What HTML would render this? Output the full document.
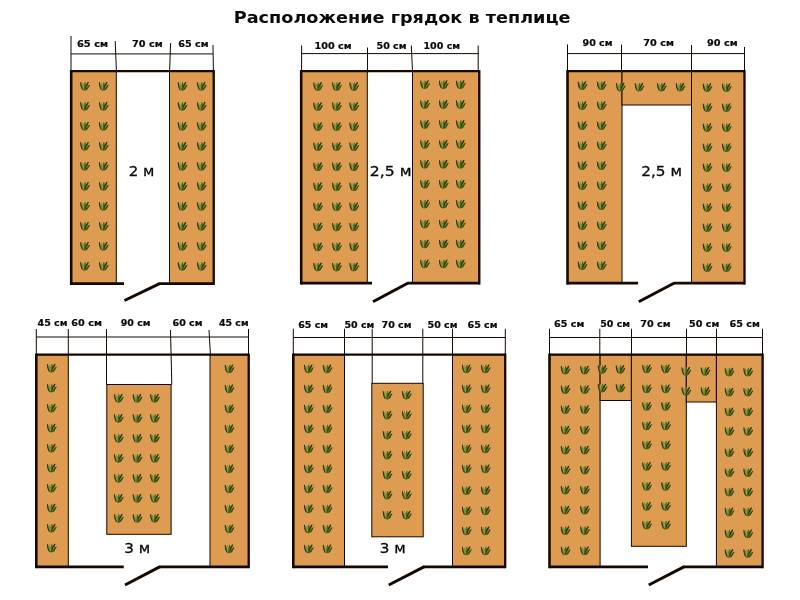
<!DOCTYPE html>
<html lang="ru">
<head>
<meta charset="utf-8">
<title>Расположение грядок в теплице</title>
<style>
html,body{margin:0;padding:0;background:#fff;}
svg{display:block;will-change:transform;}
text{font-family:"DejaVu Sans","Liberation Sans",sans-serif;fill:#0a0a0a;}
.t{font-weight:bold;font-size:16px;}
.d{font-weight:bold;font-size:9px;stroke:#0a0a0a;stroke-width:0.2px;}
.b{font-size:14px;stroke:#0a0a0a;stroke-width:0.3px;}
</style>
</head>
<body>
<svg width="800" height="600" viewBox="0 0 800 600">
<defs>
<symbol id="p" overflow="visible">
<path d="M-4.8 -4 C-4.9 -1 -4.4 1.2 -3.6 2.6 C-2.8 4 -1.6 4.7 -0.6 4.6 C1 4.5 2.6 3.6 3.6 2.2 L5 -1.4 L3.3 -0.4 L3.5 -4.3 L1.4 -1.6 L0.2 -4.5 L-1.4 -1.6 L-2.4 -4.3 L-3.5 -1.4 Z" fill="#6f8232"/>
<path d="M-4.6 -3.8 C-4.6 -1 -4 1.4 -3 3" stroke="#30380a" stroke-width="1.2" fill="none" stroke-linecap="round"/>
<path d="M-0.6 3.4 C0.4 0.8 1.8 -2 3.3 -3.9" stroke="#2c3606" stroke-width="1.5" fill="none" stroke-linecap="round"/>
<path d="M1 3.8 C2.4 2.4 3.8 0.6 4.7 -1.1" stroke="#363f0a" stroke-width="1.1" fill="none" stroke-linecap="round"/>
<path d="M-2.3 -3.6 C-2.2 -1 -1.8 1.5 -1.2 3.4" stroke="#a9b060" stroke-width="0.7" fill="none" stroke-linecap="round"/>
<path d="M0.2 -3.8 C0 -1.5 -0.2 1 -0.4 3" stroke="#4e6016" stroke-width="0.9" fill="none" stroke-linecap="round"/>
<path d="M-3 3.6 C-1.6 4.8 1.2 4.6 3 3" stroke="#50581a" stroke-width="0.8" fill="none" stroke-linecap="round"/>
</symbol>
</defs>
<rect x="0" y="0" width="800" height="600" fill="#ffffff"/>
<rect x="71.2" y="71.2" width="45.10" height="212.40" fill="#DE9C53" stroke="#140800" stroke-width="1"/>
<rect x="169.5" y="71.2" width="44.20" height="212.40" fill="#DE9C53" stroke="#140800" stroke-width="1"/>
<use href="#p" transform="translate(85 86.2) scale(0.93)"/>
<use href="#p" transform="translate(103.75 86.2) scale(0.93)"/>
<use href="#p" transform="translate(85 106.2) scale(0.93)"/>
<use href="#p" transform="translate(103.75 106.2) scale(0.93)"/>
<use href="#p" transform="translate(85 126.2) scale(0.93)"/>
<use href="#p" transform="translate(103.75 126.2) scale(0.93)"/>
<use href="#p" transform="translate(85 146.2) scale(0.93)"/>
<use href="#p" transform="translate(103.75 146.2) scale(0.93)"/>
<use href="#p" transform="translate(85 166.2) scale(0.93)"/>
<use href="#p" transform="translate(103.75 166.2) scale(0.93)"/>
<use href="#p" transform="translate(85 186.2) scale(0.93)"/>
<use href="#p" transform="translate(103.75 186.2) scale(0.93)"/>
<use href="#p" transform="translate(85 206.2) scale(0.93)"/>
<use href="#p" transform="translate(103.75 206.2) scale(0.93)"/>
<use href="#p" transform="translate(85 226.2) scale(0.93)"/>
<use href="#p" transform="translate(103.75 226.2) scale(0.93)"/>
<use href="#p" transform="translate(85 246.2) scale(0.93)"/>
<use href="#p" transform="translate(103.75 246.2) scale(0.93)"/>
<use href="#p" transform="translate(85 266.2) scale(0.93)"/>
<use href="#p" transform="translate(103.75 266.2) scale(0.93)"/>
<use href="#p" transform="translate(182.5 86.2) scale(0.93)"/>
<use href="#p" transform="translate(201.75 86.2) scale(0.93)"/>
<use href="#p" transform="translate(182.5 106.2) scale(0.93)"/>
<use href="#p" transform="translate(201.75 106.2) scale(0.93)"/>
<use href="#p" transform="translate(182.5 126.2) scale(0.93)"/>
<use href="#p" transform="translate(201.75 126.2) scale(0.93)"/>
<use href="#p" transform="translate(182.5 146.2) scale(0.93)"/>
<use href="#p" transform="translate(201.75 146.2) scale(0.93)"/>
<use href="#p" transform="translate(182.5 166.2) scale(0.93)"/>
<use href="#p" transform="translate(201.75 166.2) scale(0.93)"/>
<use href="#p" transform="translate(182.5 186.2) scale(0.93)"/>
<use href="#p" transform="translate(201.75 186.2) scale(0.93)"/>
<use href="#p" transform="translate(182.5 206.2) scale(0.93)"/>
<use href="#p" transform="translate(201.75 206.2) scale(0.93)"/>
<use href="#p" transform="translate(182.5 226.2) scale(0.93)"/>
<use href="#p" transform="translate(201.75 226.2) scale(0.93)"/>
<use href="#p" transform="translate(182.5 246.2) scale(0.93)"/>
<use href="#p" transform="translate(201.75 246.2) scale(0.93)"/>
<use href="#p" transform="translate(182.5 266.2) scale(0.93)"/>
<use href="#p" transform="translate(201.75 266.2) scale(0.93)"/>
<line x1="71.2" y1="70.10000000000001" x2="71.2" y2="285.0" stroke="#140800" stroke-width="2.6" stroke-linecap="butt"/>
<line x1="213.7" y1="70.10000000000001" x2="213.7" y2="285.0" stroke="#140800" stroke-width="2.3" stroke-linecap="butt"/>
<line x1="71.2" y1="71.2" x2="213.7" y2="71.2" stroke="#140800" stroke-width="2.3" stroke-linecap="butt"/>
<line x1="71.2" y1="283.6" x2="124" y2="283.6" stroke="#140800" stroke-width="2.8" stroke-linecap="butt"/>
<line x1="159.5" y1="283.6" x2="213.7" y2="283.6" stroke="#140800" stroke-width="2.8" stroke-linecap="butt"/>
<line x1="160.1" y1="283.40000000000003" x2="124.5" y2="300.5" stroke="#140800" stroke-width="3.0" stroke-linecap="butt"/>
<line x1="71" y1="53.9" x2="213" y2="53.9" stroke="#140800" stroke-width="1" stroke-linecap="butt"/>
<line x1="71" y1="36" x2="71" y2="71.2" stroke="#140800" stroke-width="1" stroke-linecap="butt"/>
<line x1="115.2" y1="41" x2="116.4" y2="71.2" stroke="#140800" stroke-width="1" stroke-linecap="butt"/>
<line x1="170.6" y1="43" x2="169.6" y2="71.2" stroke="#140800" stroke-width="1" stroke-linecap="butt"/>
<line x1="213" y1="45" x2="213.4" y2="71.2" stroke="#140800" stroke-width="1" stroke-linecap="butt"/>
<text class="d" x="77.0" y="47" textLength="31.10" lengthAdjust="spacingAndGlyphs">65 см</text>
<text class="d" x="132.0" y="47" textLength="30.60" lengthAdjust="spacingAndGlyphs">70 см</text>
<text class="d" x="178.25" y="47" textLength="30.35" lengthAdjust="spacingAndGlyphs">65 см</text>
<text class="b" x="128.8" y="175.75" textLength="25.65" lengthAdjust="spacingAndGlyphs">2 м</text>
<rect x="301.2" y="71.2" width="66.10" height="212.00" fill="#DE9C53" stroke="#140800" stroke-width="1"/>
<rect x="412.5" y="71.2" width="66.80" height="212.00" fill="#DE9C53" stroke="#140800" stroke-width="1"/>
<use href="#p" transform="translate(318.1 86.4) scale(0.93)"/>
<use href="#p" transform="translate(336.9 86.4) scale(0.93)"/>
<use href="#p" transform="translate(354.2 86.4) scale(0.93)"/>
<use href="#p" transform="translate(318.1 106.45) scale(0.93)"/>
<use href="#p" transform="translate(336.9 106.45) scale(0.93)"/>
<use href="#p" transform="translate(354.2 106.45) scale(0.93)"/>
<use href="#p" transform="translate(318.1 126.5) scale(0.93)"/>
<use href="#p" transform="translate(336.9 126.5) scale(0.93)"/>
<use href="#p" transform="translate(354.2 126.5) scale(0.93)"/>
<use href="#p" transform="translate(318.1 146.55) scale(0.93)"/>
<use href="#p" transform="translate(336.9 146.55) scale(0.93)"/>
<use href="#p" transform="translate(354.2 146.55) scale(0.93)"/>
<use href="#p" transform="translate(318.1 166.6) scale(0.93)"/>
<use href="#p" transform="translate(336.9 166.6) scale(0.93)"/>
<use href="#p" transform="translate(354.2 166.6) scale(0.93)"/>
<use href="#p" transform="translate(318.1 186.65) scale(0.93)"/>
<use href="#p" transform="translate(336.9 186.65) scale(0.93)"/>
<use href="#p" transform="translate(354.2 186.65) scale(0.93)"/>
<use href="#p" transform="translate(318.1 206.7) scale(0.93)"/>
<use href="#p" transform="translate(336.9 206.7) scale(0.93)"/>
<use href="#p" transform="translate(354.2 206.7) scale(0.93)"/>
<use href="#p" transform="translate(318.1 226.75) scale(0.93)"/>
<use href="#p" transform="translate(336.9 226.75) scale(0.93)"/>
<use href="#p" transform="translate(354.2 226.75) scale(0.93)"/>
<use href="#p" transform="translate(318.1 246.8) scale(0.93)"/>
<use href="#p" transform="translate(336.9 246.8) scale(0.93)"/>
<use href="#p" transform="translate(354.2 246.8) scale(0.93)"/>
<use href="#p" transform="translate(318.1 266.85) scale(0.93)"/>
<use href="#p" transform="translate(336.9 266.85) scale(0.93)"/>
<use href="#p" transform="translate(354.2 266.85) scale(0.93)"/>
<use href="#p" transform="translate(425 84.5) scale(0.93)"/>
<use href="#p" transform="translate(443.75 84.5) scale(0.93)"/>
<use href="#p" transform="translate(460.75 84.5) scale(0.93)"/>
<use href="#p" transform="translate(425 104.42) scale(0.93)"/>
<use href="#p" transform="translate(443.75 104.42) scale(0.93)"/>
<use href="#p" transform="translate(460.75 104.42) scale(0.93)"/>
<use href="#p" transform="translate(425 124.34) scale(0.93)"/>
<use href="#p" transform="translate(443.75 124.34) scale(0.93)"/>
<use href="#p" transform="translate(460.75 124.34) scale(0.93)"/>
<use href="#p" transform="translate(425 144.26) scale(0.93)"/>
<use href="#p" transform="translate(443.75 144.26) scale(0.93)"/>
<use href="#p" transform="translate(460.75 144.26) scale(0.93)"/>
<use href="#p" transform="translate(425 164.18) scale(0.93)"/>
<use href="#p" transform="translate(443.75 164.18) scale(0.93)"/>
<use href="#p" transform="translate(460.75 164.18) scale(0.93)"/>
<use href="#p" transform="translate(425 184.1) scale(0.93)"/>
<use href="#p" transform="translate(443.75 184.1) scale(0.93)"/>
<use href="#p" transform="translate(460.75 184.1) scale(0.93)"/>
<use href="#p" transform="translate(425 204.02) scale(0.93)"/>
<use href="#p" transform="translate(443.75 204.02) scale(0.93)"/>
<use href="#p" transform="translate(460.75 204.02) scale(0.93)"/>
<use href="#p" transform="translate(425 223.94) scale(0.93)"/>
<use href="#p" transform="translate(443.75 223.94) scale(0.93)"/>
<use href="#p" transform="translate(460.75 223.94) scale(0.93)"/>
<use href="#p" transform="translate(425 243.86) scale(0.93)"/>
<use href="#p" transform="translate(443.75 243.86) scale(0.93)"/>
<use href="#p" transform="translate(460.75 243.86) scale(0.93)"/>
<use href="#p" transform="translate(425 263.78) scale(0.93)"/>
<use href="#p" transform="translate(443.75 263.78) scale(0.93)"/>
<use href="#p" transform="translate(460.75 263.78) scale(0.93)"/>
<line x1="301.2" y1="70.10000000000001" x2="301.2" y2="284.59999999999997" stroke="#140800" stroke-width="2.6" stroke-linecap="butt"/>
<line x1="479.3" y1="70.10000000000001" x2="479.3" y2="284.59999999999997" stroke="#140800" stroke-width="2.3" stroke-linecap="butt"/>
<line x1="301.2" y1="71.2" x2="479.3" y2="71.2" stroke="#140800" stroke-width="2.3" stroke-linecap="butt"/>
<line x1="301.2" y1="283.2" x2="372" y2="283.2" stroke="#140800" stroke-width="2.8" stroke-linecap="butt"/>
<line x1="407.5" y1="283.2" x2="479.3" y2="283.2" stroke="#140800" stroke-width="2.8" stroke-linecap="butt"/>
<line x1="408.1" y1="283.0" x2="373" y2="301.75" stroke="#140800" stroke-width="3.0" stroke-linecap="butt"/>
<line x1="301.6" y1="53.6" x2="478.2" y2="53.6" stroke="#140800" stroke-width="1" stroke-linecap="butt"/>
<line x1="301.6" y1="45.5" x2="301.6" y2="71.2" stroke="#140800" stroke-width="1" stroke-linecap="butt"/>
<line x1="367.5" y1="47.5" x2="367.5" y2="71.2" stroke="#140800" stroke-width="1" stroke-linecap="butt"/>
<line x1="411.3" y1="45.5" x2="412.5" y2="71.2" stroke="#140800" stroke-width="1" stroke-linecap="butt"/>
<line x1="478.2" y1="45.5" x2="478.2" y2="71.2" stroke="#140800" stroke-width="1" stroke-linecap="butt"/>
<text class="d" x="314.5" y="48.75" textLength="37.10" lengthAdjust="spacingAndGlyphs">100 см</text>
<text class="d" x="376.5" y="48.75" textLength="30.10" lengthAdjust="spacingAndGlyphs">50 см</text>
<text class="d" x="423.5" y="48.75" textLength="36.60" lengthAdjust="spacingAndGlyphs">100 см</text>
<text class="b" x="369.8" y="175.5" textLength="41.65" lengthAdjust="spacingAndGlyphs">2,5 м</text>
<rect x="567.5" y="71.2" width="54.50" height="212.00" fill="#DE9C53" stroke="#140800" stroke-width="1"/>
<rect x="622" y="71.2" width="69.50" height="33.80" fill="#DE9C53" stroke="#140800" stroke-width="1"/>
<rect x="691.5" y="71.2" width="53.00" height="212.00" fill="#DE9C53" stroke="#140800" stroke-width="1"/>
<use href="#p" transform="translate(582.5 85.5) scale(0.93)"/>
<use href="#p" transform="translate(601.75 85.5) scale(0.93)"/>
<use href="#p" transform="translate(582.5 105.5) scale(0.93)"/>
<use href="#p" transform="translate(601.75 105.5) scale(0.93)"/>
<use href="#p" transform="translate(582.5 125.5) scale(0.93)"/>
<use href="#p" transform="translate(601.75 125.5) scale(0.93)"/>
<use href="#p" transform="translate(582.5 145.5) scale(0.93)"/>
<use href="#p" transform="translate(601.75 145.5) scale(0.93)"/>
<use href="#p" transform="translate(582.5 165.5) scale(0.93)"/>
<use href="#p" transform="translate(601.75 165.5) scale(0.93)"/>
<use href="#p" transform="translate(582.5 185.5) scale(0.93)"/>
<use href="#p" transform="translate(601.75 185.5) scale(0.93)"/>
<use href="#p" transform="translate(582.5 205.5) scale(0.93)"/>
<use href="#p" transform="translate(601.75 205.5) scale(0.93)"/>
<use href="#p" transform="translate(582.5 225.5) scale(0.93)"/>
<use href="#p" transform="translate(601.75 225.5) scale(0.93)"/>
<use href="#p" transform="translate(582.5 245.5) scale(0.93)"/>
<use href="#p" transform="translate(601.75 245.5) scale(0.93)"/>
<use href="#p" transform="translate(582.5 265.5) scale(0.93)"/>
<use href="#p" transform="translate(601.75 265.5) scale(0.93)"/>
<use href="#p" transform="translate(620.75 87) scale(0.93)"/>
<use href="#p" transform="translate(639.5 87) scale(0.93)"/>
<use href="#p" transform="translate(661.75 87) scale(0.93)"/>
<use href="#p" transform="translate(680.5 87) scale(0.93)"/>
<use href="#p" transform="translate(707.5 87.5) scale(0.93)"/>
<use href="#p" transform="translate(726.75 87.5) scale(0.93)"/>
<use href="#p" transform="translate(707.5 107.5) scale(0.93)"/>
<use href="#p" transform="translate(726.75 107.5) scale(0.93)"/>
<use href="#p" transform="translate(707.5 127.5) scale(0.93)"/>
<use href="#p" transform="translate(726.75 127.5) scale(0.93)"/>
<use href="#p" transform="translate(707.5 147.5) scale(0.93)"/>
<use href="#p" transform="translate(726.75 147.5) scale(0.93)"/>
<use href="#p" transform="translate(707.5 167.5) scale(0.93)"/>
<use href="#p" transform="translate(726.75 167.5) scale(0.93)"/>
<use href="#p" transform="translate(707.5 187.5) scale(0.93)"/>
<use href="#p" transform="translate(726.75 187.5) scale(0.93)"/>
<use href="#p" transform="translate(707.5 207.5) scale(0.93)"/>
<use href="#p" transform="translate(726.75 207.5) scale(0.93)"/>
<use href="#p" transform="translate(707.5 227.5) scale(0.93)"/>
<use href="#p" transform="translate(726.75 227.5) scale(0.93)"/>
<use href="#p" transform="translate(707.5 247.5) scale(0.93)"/>
<use href="#p" transform="translate(726.75 247.5) scale(0.93)"/>
<use href="#p" transform="translate(707.5 267.5) scale(0.93)"/>
<use href="#p" transform="translate(726.75 267.5) scale(0.93)"/>
<line x1="567.5" y1="70.10000000000001" x2="567.5" y2="284.59999999999997" stroke="#140800" stroke-width="2.6" stroke-linecap="butt"/>
<line x1="744.5" y1="70.10000000000001" x2="744.5" y2="284.59999999999997" stroke="#140800" stroke-width="2.3" stroke-linecap="butt"/>
<line x1="567.5" y1="71.2" x2="744.5" y2="71.2" stroke="#140800" stroke-width="2.3" stroke-linecap="butt"/>
<line x1="567.5" y1="283.2" x2="638" y2="283.2" stroke="#140800" stroke-width="2.8" stroke-linecap="butt"/>
<line x1="673.75" y1="283.2" x2="744.5" y2="283.2" stroke="#140800" stroke-width="2.8" stroke-linecap="butt"/>
<line x1="674.35" y1="283.0" x2="638.75" y2="301.75" stroke="#140800" stroke-width="3.0" stroke-linecap="butt"/>
<line x1="567.5" y1="53.6" x2="744.5" y2="53.6" stroke="#140800" stroke-width="1" stroke-linecap="butt"/>
<line x1="567.5" y1="44.5" x2="567.5" y2="71.2" stroke="#140800" stroke-width="1" stroke-linecap="butt"/>
<line x1="621.5" y1="44.5" x2="621.5" y2="71.2" stroke="#140800" stroke-width="1" stroke-linecap="butt"/>
<line x1="691.5" y1="45" x2="691.5" y2="71.2" stroke="#140800" stroke-width="1" stroke-linecap="butt"/>
<line x1="744.5" y1="47" x2="744.5" y2="71.2" stroke="#140800" stroke-width="1" stroke-linecap="butt"/>
<text class="d" x="582.5" y="45.75" textLength="30.10" lengthAdjust="spacingAndGlyphs">90 см</text>
<text class="d" x="643.25" y="45.75" textLength="30.60" lengthAdjust="spacingAndGlyphs">70 см</text>
<text class="d" x="707.0" y="45.75" textLength="30.60" lengthAdjust="spacingAndGlyphs">90 см</text>
<text class="b" x="641.3" y="175.5" textLength="40.65" lengthAdjust="spacingAndGlyphs">2,5 м</text>
<rect x="36.3" y="354.7" width="32.00" height="212.10" fill="#DE9C53" stroke="#140800" stroke-width="1"/>
<rect x="106.8" y="384.5" width="64.30" height="149.80" fill="#DE9C53" stroke="#140800" stroke-width="1"/>
<rect x="210" y="354.7" width="38.70" height="212.10" fill="#DE9C53" stroke="#140800" stroke-width="1"/>
<use href="#p" transform="translate(51.75 368) scale(0.93)"/>
<use href="#p" transform="translate(51.75 388) scale(0.93)"/>
<use href="#p" transform="translate(51.75 408) scale(0.93)"/>
<use href="#p" transform="translate(51.75 428) scale(0.93)"/>
<use href="#p" transform="translate(51.75 448) scale(0.93)"/>
<use href="#p" transform="translate(51.75 468) scale(0.93)"/>
<use href="#p" transform="translate(51.75 488) scale(0.93)"/>
<use href="#p" transform="translate(51.75 508) scale(0.93)"/>
<use href="#p" transform="translate(51.75 528) scale(0.93)"/>
<use href="#p" transform="translate(51.75 548) scale(0.93)"/>
<use href="#p" transform="translate(118.75 398.2) scale(0.93)"/>
<use href="#p" transform="translate(137.5 398.2) scale(0.93)"/>
<use href="#p" transform="translate(155 398.2) scale(0.93)"/>
<use href="#p" transform="translate(118.75 418.2) scale(0.93)"/>
<use href="#p" transform="translate(137.5 418.2) scale(0.93)"/>
<use href="#p" transform="translate(155 418.2) scale(0.93)"/>
<use href="#p" transform="translate(118.75 438.2) scale(0.93)"/>
<use href="#p" transform="translate(137.5 438.2) scale(0.93)"/>
<use href="#p" transform="translate(155 438.2) scale(0.93)"/>
<use href="#p" transform="translate(118.75 458.2) scale(0.93)"/>
<use href="#p" transform="translate(137.5 458.2) scale(0.93)"/>
<use href="#p" transform="translate(155 458.2) scale(0.93)"/>
<use href="#p" transform="translate(118.75 478.2) scale(0.93)"/>
<use href="#p" transform="translate(137.5 478.2) scale(0.93)"/>
<use href="#p" transform="translate(155 478.2) scale(0.93)"/>
<use href="#p" transform="translate(118.75 498.2) scale(0.93)"/>
<use href="#p" transform="translate(137.5 498.2) scale(0.93)"/>
<use href="#p" transform="translate(155 498.2) scale(0.93)"/>
<use href="#p" transform="translate(118.75 518.2) scale(0.93)"/>
<use href="#p" transform="translate(137.5 518.2) scale(0.93)"/>
<use href="#p" transform="translate(155 518.2) scale(0.93)"/>
<use href="#p" transform="translate(229.5 368.75) scale(0.93)"/>
<use href="#p" transform="translate(229.5 388.75) scale(0.93)"/>
<use href="#p" transform="translate(229.5 408.75) scale(0.93)"/>
<use href="#p" transform="translate(229.5 428.75) scale(0.93)"/>
<use href="#p" transform="translate(229.5 448.75) scale(0.93)"/>
<use href="#p" transform="translate(229.5 468.75) scale(0.93)"/>
<use href="#p" transform="translate(229.5 488.75) scale(0.93)"/>
<use href="#p" transform="translate(229.5 508.75) scale(0.93)"/>
<use href="#p" transform="translate(229.5 528.75) scale(0.93)"/>
<use href="#p" transform="translate(229.5 548.75) scale(0.93)"/>
<line x1="36.3" y1="353.59999999999997" x2="36.3" y2="568.1999999999999" stroke="#140800" stroke-width="2.6" stroke-linecap="butt"/>
<line x1="248.7" y1="353.59999999999997" x2="248.7" y2="568.1999999999999" stroke="#140800" stroke-width="2.3" stroke-linecap="butt"/>
<line x1="36.3" y1="354.7" x2="248.7" y2="354.7" stroke="#140800" stroke-width="2.3" stroke-linecap="butt"/>
<line x1="36.3" y1="566.8" x2="123.75" y2="566.8" stroke="#140800" stroke-width="2.8" stroke-linecap="butt"/>
<line x1="159.5" y1="566.8" x2="248.7" y2="566.8" stroke="#140800" stroke-width="2.8" stroke-linecap="butt"/>
<line x1="160.1" y1="566.5999999999999" x2="125" y2="585" stroke="#140800" stroke-width="3.0" stroke-linecap="butt"/>
<line x1="36.3" y1="337" x2="248.5" y2="337" stroke="#140800" stroke-width="1" stroke-linecap="butt"/>
<line x1="36.3" y1="329" x2="36.3" y2="354.7" stroke="#140800" stroke-width="1" stroke-linecap="butt"/>
<line x1="68.3" y1="329" x2="68.3" y2="354.7" stroke="#140800" stroke-width="1" stroke-linecap="butt"/>
<line x1="106.5" y1="329" x2="106.5" y2="384.5" stroke="#140800" stroke-width="1" stroke-linecap="butt"/>
<line x1="170.5" y1="330" x2="171.8" y2="384.5" stroke="#140800" stroke-width="1" stroke-linecap="butt"/>
<line x1="209" y1="330" x2="210.4" y2="354.3" stroke="#140800" stroke-width="1" stroke-linecap="butt"/>
<line x1="248.5" y1="329" x2="248.5" y2="354.7" stroke="#140800" stroke-width="1" stroke-linecap="butt"/>
<text class="d" x="37.5" y="325.75" textLength="30.10" lengthAdjust="spacingAndGlyphs">45 см</text>
<text class="d" x="71.25" y="325.75" textLength="30.60" lengthAdjust="spacingAndGlyphs">60 см</text>
<text class="d" x="120.75" y="325.75" textLength="29.85" lengthAdjust="spacingAndGlyphs">90 см</text>
<text class="d" x="172.5" y="325.75" textLength="30.10" lengthAdjust="spacingAndGlyphs">60 см</text>
<text class="d" x="219.0" y="325.75" textLength="29.60" lengthAdjust="spacingAndGlyphs">45 см</text>
<text class="b" x="124.3" y="552.5" textLength="25.90" lengthAdjust="spacingAndGlyphs">3 м</text>
<rect x="293.3" y="354.7" width="51.20" height="212.10" fill="#DE9C53" stroke="#140800" stroke-width="1"/>
<rect x="371.8" y="383.3" width="51.40" height="153.50" fill="#DE9C53" stroke="#140800" stroke-width="1"/>
<rect x="452.5" y="354.7" width="52.70" height="212.10" fill="#DE9C53" stroke="#140800" stroke-width="1"/>
<use href="#p" transform="translate(308.75 368.75) scale(0.93)"/>
<use href="#p" transform="translate(327.5 368.75) scale(0.93)"/>
<use href="#p" transform="translate(308.75 388.75) scale(0.93)"/>
<use href="#p" transform="translate(327.5 388.75) scale(0.93)"/>
<use href="#p" transform="translate(308.75 408.75) scale(0.93)"/>
<use href="#p" transform="translate(327.5 408.75) scale(0.93)"/>
<use href="#p" transform="translate(308.75 428.75) scale(0.93)"/>
<use href="#p" transform="translate(327.5 428.75) scale(0.93)"/>
<use href="#p" transform="translate(308.75 448.75) scale(0.93)"/>
<use href="#p" transform="translate(327.5 448.75) scale(0.93)"/>
<use href="#p" transform="translate(308.75 468.75) scale(0.93)"/>
<use href="#p" transform="translate(327.5 468.75) scale(0.93)"/>
<use href="#p" transform="translate(308.75 488.75) scale(0.93)"/>
<use href="#p" transform="translate(327.5 488.75) scale(0.93)"/>
<use href="#p" transform="translate(308.75 508.75) scale(0.93)"/>
<use href="#p" transform="translate(327.5 508.75) scale(0.93)"/>
<use href="#p" transform="translate(308.75 528.75) scale(0.93)"/>
<use href="#p" transform="translate(327.5 528.75) scale(0.93)"/>
<use href="#p" transform="translate(308.75 548.75) scale(0.93)"/>
<use href="#p" transform="translate(327.5 548.75) scale(0.93)"/>
<use href="#p" transform="translate(387.5 395) scale(0.93)"/>
<use href="#p" transform="translate(406.75 395) scale(0.93)"/>
<use href="#p" transform="translate(387.5 415) scale(0.93)"/>
<use href="#p" transform="translate(406.75 415) scale(0.93)"/>
<use href="#p" transform="translate(387.5 435) scale(0.93)"/>
<use href="#p" transform="translate(406.75 435) scale(0.93)"/>
<use href="#p" transform="translate(387.5 455) scale(0.93)"/>
<use href="#p" transform="translate(406.75 455) scale(0.93)"/>
<use href="#p" transform="translate(387.5 475) scale(0.93)"/>
<use href="#p" transform="translate(406.75 475) scale(0.93)"/>
<use href="#p" transform="translate(387.5 495) scale(0.93)"/>
<use href="#p" transform="translate(406.75 495) scale(0.93)"/>
<use href="#p" transform="translate(387.5 515) scale(0.93)"/>
<use href="#p" transform="translate(406.75 515) scale(0.93)"/>
<use href="#p" transform="translate(466.75 368.75) scale(0.93)"/>
<use href="#p" transform="translate(485.75 368.75) scale(0.93)"/>
<use href="#p" transform="translate(466.75 388.75) scale(0.93)"/>
<use href="#p" transform="translate(485.75 388.75) scale(0.93)"/>
<use href="#p" transform="translate(466.75 408.75) scale(0.93)"/>
<use href="#p" transform="translate(485.75 408.75) scale(0.93)"/>
<use href="#p" transform="translate(466.75 428.75) scale(0.93)"/>
<use href="#p" transform="translate(485.75 428.75) scale(0.93)"/>
<use href="#p" transform="translate(466.75 448.75) scale(0.93)"/>
<use href="#p" transform="translate(485.75 448.75) scale(0.93)"/>
<use href="#p" transform="translate(466.75 468.75) scale(0.93)"/>
<use href="#p" transform="translate(485.75 468.75) scale(0.93)"/>
<use href="#p" transform="translate(466.75 490.5) scale(0.93)"/>
<use href="#p" transform="translate(485.75 490.5) scale(0.93)"/>
<use href="#p" transform="translate(466.75 510.75) scale(0.93)"/>
<use href="#p" transform="translate(485.75 510.75) scale(0.93)"/>
<use href="#p" transform="translate(466.75 530.75) scale(0.93)"/>
<use href="#p" transform="translate(485.75 530.75) scale(0.93)"/>
<use href="#p" transform="translate(466.75 550.75) scale(0.93)"/>
<use href="#p" transform="translate(485.75 550.75) scale(0.93)"/>
<line x1="293.3" y1="353.59999999999997" x2="293.3" y2="568.1999999999999" stroke="#140800" stroke-width="2.6" stroke-linecap="butt"/>
<line x1="505.2" y1="353.59999999999997" x2="505.2" y2="568.1999999999999" stroke="#140800" stroke-width="2.3" stroke-linecap="butt"/>
<line x1="293.3" y1="354.7" x2="505.2" y2="354.7" stroke="#140800" stroke-width="2.3" stroke-linecap="butt"/>
<line x1="293.3" y1="566.8" x2="388" y2="566.8" stroke="#140800" stroke-width="2.8" stroke-linecap="butt"/>
<line x1="423.75" y1="566.8" x2="505.2" y2="566.8" stroke="#140800" stroke-width="2.8" stroke-linecap="butt"/>
<line x1="424.35" y1="566.5999999999999" x2="388.75" y2="585" stroke="#140800" stroke-width="3.0" stroke-linecap="butt"/>
<line x1="293.3" y1="337.5" x2="505.3" y2="337.5" stroke="#140800" stroke-width="1" stroke-linecap="butt"/>
<line x1="293.3" y1="328.75" x2="293.3" y2="354.7" stroke="#140800" stroke-width="1" stroke-linecap="butt"/>
<line x1="344.5" y1="328.75" x2="344.5" y2="354.7" stroke="#140800" stroke-width="1" stroke-linecap="butt"/>
<line x1="372.2" y1="328.75" x2="372.2" y2="383.3" stroke="#140800" stroke-width="1" stroke-linecap="butt"/>
<line x1="422.8" y1="328.75" x2="422.8" y2="383.3" stroke="#140800" stroke-width="1" stroke-linecap="butt"/>
<line x1="452.5" y1="328.75" x2="452.5" y2="354.7" stroke="#140800" stroke-width="1" stroke-linecap="butt"/>
<line x1="505.3" y1="328.75" x2="505.3" y2="354.7" stroke="#140800" stroke-width="1" stroke-linecap="butt"/>
<text class="d" x="298.25" y="327.5" textLength="29.85" lengthAdjust="spacingAndGlyphs">65 см</text>
<text class="d" x="344.5" y="327.5" textLength="29.85" lengthAdjust="spacingAndGlyphs">50 см</text>
<text class="d" x="381.5" y="327.5" textLength="30.10" lengthAdjust="spacingAndGlyphs">70 см</text>
<text class="d" x="427.5" y="327.5" textLength="30.10" lengthAdjust="spacingAndGlyphs">50 см</text>
<text class="d" x="467.5" y="327.5" textLength="30.10" lengthAdjust="spacingAndGlyphs">65 см</text>
<text class="b" x="379.8" y="552.5" textLength="25.90" lengthAdjust="spacingAndGlyphs">3 м</text>
<rect x="549.5" y="354.7" width="50.60" height="212.10" fill="#DE9C53" stroke="#140800" stroke-width="1"/>
<rect x="600.1" y="354.7" width="31.30" height="45.80" fill="#DE9C53" stroke="#140800" stroke-width="1"/>
<rect x="631.4" y="354.7" width="54.90" height="191.60" fill="#DE9C53" stroke="#140800" stroke-width="1"/>
<rect x="686.3" y="354.7" width="30.10" height="47.30" fill="#DE9C53" stroke="#140800" stroke-width="1"/>
<rect x="716.4" y="354.7" width="46.20" height="212.10" fill="#DE9C53" stroke="#140800" stroke-width="1"/>
<use href="#p" transform="translate(565.6 370) scale(0.93)"/>
<use href="#p" transform="translate(585 370) scale(0.93)"/>
<use href="#p" transform="translate(565.6 389.5) scale(0.93)"/>
<use href="#p" transform="translate(585 389.5) scale(0.93)"/>
<use href="#p" transform="translate(565.6 409.5) scale(0.93)"/>
<use href="#p" transform="translate(585 409.5) scale(0.93)"/>
<use href="#p" transform="translate(565.6 430) scale(0.93)"/>
<use href="#p" transform="translate(585 430) scale(0.93)"/>
<use href="#p" transform="translate(565.6 450) scale(0.93)"/>
<use href="#p" transform="translate(585 450) scale(0.93)"/>
<use href="#p" transform="translate(565.6 470) scale(0.93)"/>
<use href="#p" transform="translate(585 470) scale(0.93)"/>
<use href="#p" transform="translate(565.6 490) scale(0.93)"/>
<use href="#p" transform="translate(585 490) scale(0.93)"/>
<use href="#p" transform="translate(565.6 510) scale(0.93)"/>
<use href="#p" transform="translate(585 510) scale(0.93)"/>
<use href="#p" transform="translate(565.6 530.5) scale(0.93)"/>
<use href="#p" transform="translate(585 530.5) scale(0.93)"/>
<use href="#p" transform="translate(565.6 550.75) scale(0.93)"/>
<use href="#p" transform="translate(585 550.75) scale(0.93)"/>
<use href="#p" transform="translate(602.5 369.25) scale(0.93)"/>
<use href="#p" transform="translate(620.5 369.25) scale(0.93)"/>
<use href="#p" transform="translate(602.5 388) scale(0.93)"/>
<use href="#p" transform="translate(620.5 388) scale(0.93)"/>
<use href="#p" transform="translate(647 368.75) scale(0.93)"/>
<use href="#p" transform="translate(666 368.75) scale(0.93)"/>
<use href="#p" transform="translate(647 388.75) scale(0.93)"/>
<use href="#p" transform="translate(666 388.75) scale(0.93)"/>
<use href="#p" transform="translate(647 406.25) scale(0.93)"/>
<use href="#p" transform="translate(666 406.25) scale(0.93)"/>
<use href="#p" transform="translate(647 425.75) scale(0.93)"/>
<use href="#p" transform="translate(666 425.75) scale(0.93)"/>
<use href="#p" transform="translate(647 445) scale(0.93)"/>
<use href="#p" transform="translate(666 445) scale(0.93)"/>
<use href="#p" transform="translate(647 466.25) scale(0.93)"/>
<use href="#p" transform="translate(666 466.25) scale(0.93)"/>
<use href="#p" transform="translate(647 486.25) scale(0.93)"/>
<use href="#p" transform="translate(666 486.25) scale(0.93)"/>
<use href="#p" transform="translate(647 506.25) scale(0.93)"/>
<use href="#p" transform="translate(666 506.25) scale(0.93)"/>
<use href="#p" transform="translate(647 525) scale(0.93)"/>
<use href="#p" transform="translate(666 525) scale(0.93)"/>
<use href="#p" transform="translate(686.25 371.25) scale(0.93)"/>
<use href="#p" transform="translate(705.5 371.25) scale(0.93)"/>
<use href="#p" transform="translate(686.25 391.25) scale(0.93)"/>
<use href="#p" transform="translate(705.5 391.25) scale(0.93)"/>
<use href="#p" transform="translate(729.5 372) scale(0.93)"/>
<use href="#p" transform="translate(748.2 372) scale(0.93)"/>
<use href="#p" transform="translate(729.5 392) scale(0.93)"/>
<use href="#p" transform="translate(748.2 392) scale(0.93)"/>
<use href="#p" transform="translate(729.5 411.75) scale(0.93)"/>
<use href="#p" transform="translate(748.2 411.75) scale(0.93)"/>
<use href="#p" transform="translate(729.5 431.25) scale(0.93)"/>
<use href="#p" transform="translate(748.2 431.25) scale(0.93)"/>
<use href="#p" transform="translate(729.5 452.5) scale(0.93)"/>
<use href="#p" transform="translate(748.2 452.5) scale(0.93)"/>
<use href="#p" transform="translate(729.5 472.5) scale(0.93)"/>
<use href="#p" transform="translate(748.2 472.5) scale(0.93)"/>
<use href="#p" transform="translate(729.5 492) scale(0.93)"/>
<use href="#p" transform="translate(748.2 492) scale(0.93)"/>
<use href="#p" transform="translate(729.5 511.75) scale(0.93)"/>
<use href="#p" transform="translate(748.2 511.75) scale(0.93)"/>
<use href="#p" transform="translate(729.5 533.75) scale(0.93)"/>
<use href="#p" transform="translate(748.2 533.75) scale(0.93)"/>
<use href="#p" transform="translate(729.5 553.25) scale(0.93)"/>
<use href="#p" transform="translate(748.2 553.25) scale(0.93)"/>
<line x1="549.5" y1="353.59999999999997" x2="549.5" y2="568.1999999999999" stroke="#140800" stroke-width="2.6" stroke-linecap="butt"/>
<line x1="762.6" y1="353.59999999999997" x2="762.6" y2="568.1999999999999" stroke="#140800" stroke-width="2.3" stroke-linecap="butt"/>
<line x1="549.5" y1="354.7" x2="762.6" y2="354.7" stroke="#140800" stroke-width="2.3" stroke-linecap="butt"/>
<line x1="549.5" y1="566.8" x2="648" y2="566.8" stroke="#140800" stroke-width="2.8" stroke-linecap="butt"/>
<line x1="683.75" y1="566.8" x2="762.6" y2="566.8" stroke="#140800" stroke-width="2.8" stroke-linecap="butt"/>
<line x1="684.35" y1="566.5999999999999" x2="648.75" y2="585" stroke="#140800" stroke-width="3.0" stroke-linecap="butt"/>
<line x1="549.5" y1="337.5" x2="762.5" y2="337.5" stroke="#140800" stroke-width="1" stroke-linecap="butt"/>
<line x1="549.5" y1="328.75" x2="549.5" y2="354.7" stroke="#140800" stroke-width="1" stroke-linecap="butt"/>
<line x1="599.8" y1="328.75" x2="599.8" y2="354.7" stroke="#140800" stroke-width="1" stroke-linecap="butt"/>
<line x1="631.5" y1="328.75" x2="631.5" y2="354.7" stroke="#140800" stroke-width="1" stroke-linecap="butt"/>
<line x1="686.5" y1="328.75" x2="686.5" y2="354.7" stroke="#140800" stroke-width="1" stroke-linecap="butt"/>
<line x1="716.5" y1="328.75" x2="716.5" y2="354.7" stroke="#140800" stroke-width="1" stroke-linecap="butt"/>
<line x1="762.5" y1="328.75" x2="762.5" y2="354.7" stroke="#140800" stroke-width="1" stroke-linecap="butt"/>
<text class="d" x="554.0" y="326.75" textLength="30.35" lengthAdjust="spacingAndGlyphs">65 см</text>
<text class="d" x="600.25" y="326.75" textLength="29.85" lengthAdjust="spacingAndGlyphs">50 см</text>
<text class="d" x="640.25" y="326.75" textLength="30.35" lengthAdjust="spacingAndGlyphs">70 см</text>
<text class="d" x="689.0" y="326.75" textLength="30.35" lengthAdjust="spacingAndGlyphs">50 см</text>
<text class="d" x="729.5" y="326.75" textLength="30.35" lengthAdjust="spacingAndGlyphs">65 см</text>
<text class="t" x="233.75" y="23" textLength="336.75" lengthAdjust="spacingAndGlyphs">Расположение грядок в теплице</text>
</svg>
</body>
</html>
